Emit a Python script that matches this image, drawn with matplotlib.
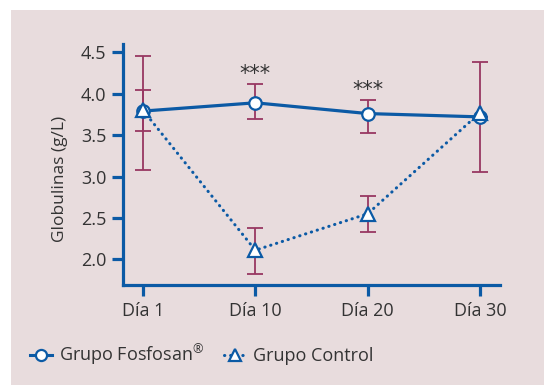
import matplotlib
matplotlib.use("Agg")
import matplotlib.pyplot as plt
from matplotlib.patches import Rectangle
from matplotlib.lines import Line2D

plt.rcParams['font.family'] = ['Open Sans', 'DejaVu Sans']
plt.rcParams['mathtext.fontset'] = 'custom'
plt.rcParams['mathtext.rm'] = 'Open Sans'

days = ["Día 1", "Día 10", "Día 20", "Día 30"]
fosfosan = [3.79, 3.89, 3.76, 3.72]
fosfosan_lo = [3.55, 3.69, 3.53, 3.72]
fosfosan_hi = [4.04, 4.12, 3.92, 3.72]
control = [3.80, 2.11, 2.55, 3.77]
control_lo = [3.08, 1.82, 2.33, 3.05]
control_hi = [4.45, 2.38, 2.76, 4.38]
significance = ["", "***", "***", ""]
yticks = [2.0, 2.5, 3.0, 3.5, 4.0, 4.5]

BLUE = "#0b5aa5"
ERR = "#983862"
BG = "#e8dcdd"
TXT = "#333333"
DOTS = (0, (0.1, 1.9))

fig = plt.figure(figsize=(5.44, 3.85), dpi=100)
fig.patch.set_facecolor("white")
fig.patches.append(Rectangle((11 / 544, 0), 1 - 11 / 544, 1 - 10 / 385,
                             transform=fig.transFigure, facecolor=BG,
                             edgecolor="none", zorder=-5))

ax = fig.add_axes([123 / 544, 1 - 285 / 385, (500 - 123) / 544, (285 - 44) / 385])
ax.set_zorder(2)
ax.set_facecolor("none")
x = list(range(len(days)))

# error bars
ax.errorbar(x, control, yerr=[[c - l for c, l in zip(control, control_lo)],
                              [h - c for c, h in zip(control, control_hi)]],
            fmt="none", ecolor=ERR, elinewidth=1.3, capsize=6, capthick=1.3, zorder=2)
ax.errorbar(x, fosfosan, yerr=[[c - l for c, l in zip(fosfosan, fosfosan_lo)],
                               [h - c for c, h in zip(fosfosan, fosfosan_hi)]],
            fmt="none", ecolor=ERR, elinewidth=1.3, capsize=6, capthick=1.3, zorder=2)

ax.plot(x, fosfosan, color=BLUE, lw=2.3, marker="o", ms=9, mfc="white",
        mec=BLUE, mew=1.6, zorder=4)
ax.plot(x, control, color=BLUE, lw=2.2, ls=DOTS, dash_capstyle="round",
        marker="^", ms=10, mfc="white", mec=BLUE, mew=1.6, zorder=5)

for xi, s, hi in zip(x, significance, fosfosan_hi):
    if s:
        ax.text(xi, hi + 0.0, s, ha="center", va="bottom", fontsize=15,
                color=TXT, family="DejaVu Sans")

ax.set_xlim(-0.178, 3.178)
ax.set_ylim(1.69, 4.6)
ax.set_xticks(x)
ax.set_xticklabels(days)
ax.set_yticks(yticks)
ax.set_yticklabels([f"{v:.1f}" for v in yticks])
ax.set_ylabel("Globulinas (g/L)", fontsize=12.5, color=TXT)
ax.yaxis.set_label_coords(-0.145, 0.44)

for side in ("top", "right"):
    ax.spines[side].set_visible(False)
for side in ("left", "bottom"):
    ax.spines[side].set_color(BLUE)
    ax.spines[side].set_linewidth(2.3)
ax.tick_params(axis="both", colors=BLUE, width=2.3, length=8, labelsize=13,
               labelcolor=TXT, pad=4)

handles = [
    Line2D([], [], color=BLUE, lw=2.2, marker="o", ms=8, mfc="white", mec=BLUE, mew=1.6),
    Line2D([], [], color=BLUE, lw=2.2, ls=DOTS, dash_capstyle="round", marker="^",
           ms=8, mfc="white", mec=BLUE, mew=1.6),
]
fig.legend(handles, ["Grupo Fosfosan$^{®}$", "Grupo Control"], loc="center left",
           bbox_to_anchor=(14 / 544, 1 - 355 / 385), ncol=2, frameon=False,
           fontsize=13, handlelength=1.2, handletextpad=0.4, columnspacing=1.1,
           labelcolor=TXT)

fig.savefig("out.png", dpi=100, facecolor=fig.get_facecolor())
